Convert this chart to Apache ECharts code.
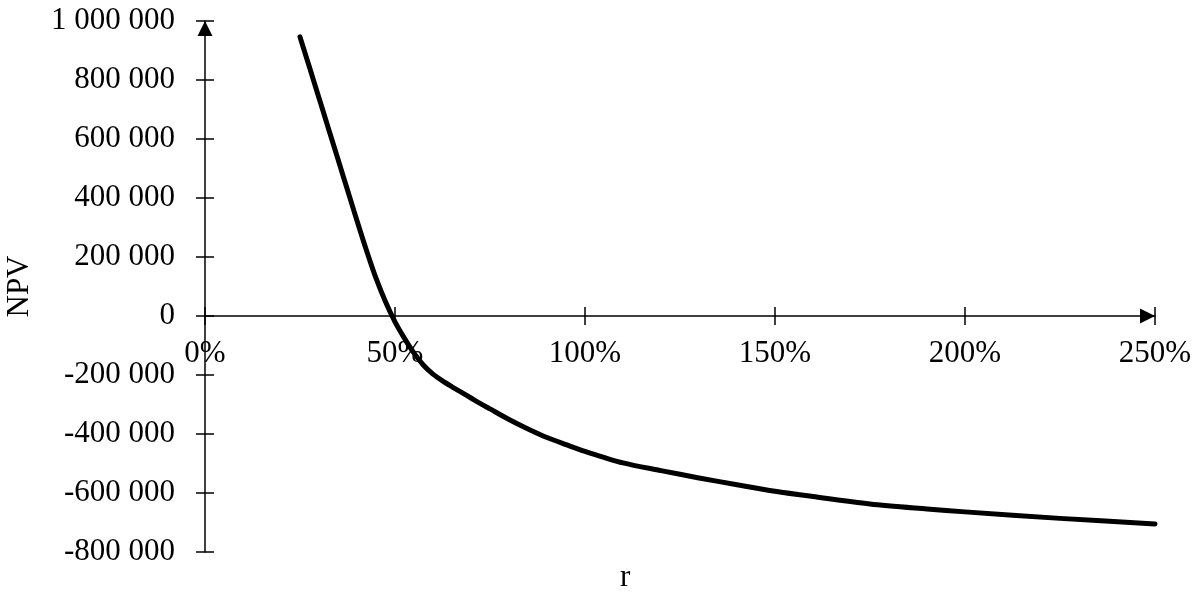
<!DOCTYPE html>
<html>
<head>
<meta charset="utf-8">
<script src="https://cdn.jsdelivr.net/npm/echarts@6/dist/echarts.min.js"></script>
<style>
  html, body { margin: 0; padding: 0; background: #fff; }
  #chart { width: 1200px; height: 592px; }
</style>
</head>
<body>
<div id="chart"></div>
<script>
// Discount rate r (%) and the resulting net present value
const rates = [25, 27.5, 30, 32.5, 35, 37.5, 40, 42.5, 45, 47.5, 50, 52.5, 55, 57.5, 60, 62.5, 65, 67.5, 70, 72.5, 75,
               80, 85, 90, 95, 100, 110, 120, 130, 140, 150, 160, 175, 190, 200, 225, 250];
const npv = [946000, 843000, 739000, 635000, 531000, 427000, 323000, 222000, 128000, 48000, -20000, -76000, -126000,
             -167000, -197000, -220000, -240000, -259000, -278000, -297000, -315000,
             -351000, -383000, -412000, -436000, -459000, -498000, -524000, -549000, -572000, -594000, -612000,
             -637000, -654000, -664000, -686000, -705000];

const xTicks = { min: 0, max: 250, step: 50 };
const yTicks = { min: -800000, max: 1000000, step: 200000 };

const FONT = 'Liberation Serif, Times New Roman, serif';
const INK = '#000';
const GRID = { left: 205, right: 45, top: 21, bottom: 40 };
const HEIGHT = 592;

function spaced(v) {
  const s = Math.abs(v).toString().replace(/\B(?=(\d{3})+(?!\d))/g, ' ');
  return (v < 0 ? '-' : '') + s;
}

// the horizontal axis sits on NPV = 0: shift it up from the grid bottom by that amount
const plotHeight = HEIGHT - GRID.top - GRID.bottom;
const zeroOffset = -plotHeight * (0 - yTicks.min) / (yTicks.max - yTicks.min);

const chart = echarts.init(document.getElementById('chart'), null, { renderer: 'canvas' });

const axisLineStyle = { color: INK, width: 1.5 };

chart.setOption({
  animation: false,
  backgroundColor: '#fff',
  grid: Object.assign({ containLabel: false, outerBoundsMode: 'none' }, GRID),
  xAxis: [
    {
      type: 'value', min: xTicks.min, max: xTicks.max, interval: xTicks.step,
      position: 'bottom', offset: zeroOffset,
      axisLine: {
        onZero: false, lineStyle: axisLineStyle,
        symbol: ['none', 'triangle'], symbolSize: [15, 15], symbolOffset: [0, -7.5]
      },
      axisTick: { inside: false, length: 9, lineStyle: axisLineStyle },
      axisLabel: {
        formatter: '{value}%', margin: 22, fontSize: 31, fontFamily: FONT, color: INK
      },
      splitLine: { show: false }
    },
    {
      // inner half of the crossing tick marks
      type: 'value', min: xTicks.min, max: xTicks.max, interval: xTicks.step,
      position: 'bottom', offset: zeroOffset,
      axisLine: { show: false, onZero: false },
      axisTick: { inside: true, length: 9, lineStyle: axisLineStyle },
      axisLabel: { show: false },
      splitLine: { show: false }
    }
  ],
  yAxis: [
    {
      type: 'value', min: yTicks.min, max: yTicks.max, interval: yTicks.step, position: 'left',
      name: 'NPV', nameLocation: 'middle', nameGap: 170, nameRotate: 90,
      nameTextStyle: { fontSize: 31, fontFamily: FONT, color: INK },
      axisLine: {
        show: true, onZero: false, lineStyle: axisLineStyle,
        symbol: ['none', 'triangle'], symbolSize: [15, 15], symbolOffset: [0, -7.5]
      },
      axisTick: { show: true, inside: false, length: 9, lineStyle: axisLineStyle },
      axisLabel: { formatter: spaced, margin: 30, fontSize: 31, fontFamily: FONT, color: INK },
      splitLine: { show: false }
    },
    {
      type: 'value', min: yTicks.min, max: yTicks.max, interval: yTicks.step, position: 'left',
      axisLine: { show: false, onZero: false },
      axisTick: { show: true, inside: true, length: 9, lineStyle: axisLineStyle },
      axisLabel: { show: false },
      splitLine: { show: false }
    }
  ],
  graphic: [
    {
      type: 'text', left: 620, top: 562,
      style: { text: 'r', font: '31px ' + FONT, fill: INK }
    }
  ],
  series: [
    {
      type: 'line',
      xAxisIndex: 0, yAxisIndex: 0,
      data: rates.map((r, i) => [r, npv[i]]),
      smooth: 0.3,
      showSymbol: false,
      symbol: 'none',
      lineStyle: { color: INK, width: 5, cap: 'round', join: 'round' }
    }
  ]
});
</script>
</body>
</html>
